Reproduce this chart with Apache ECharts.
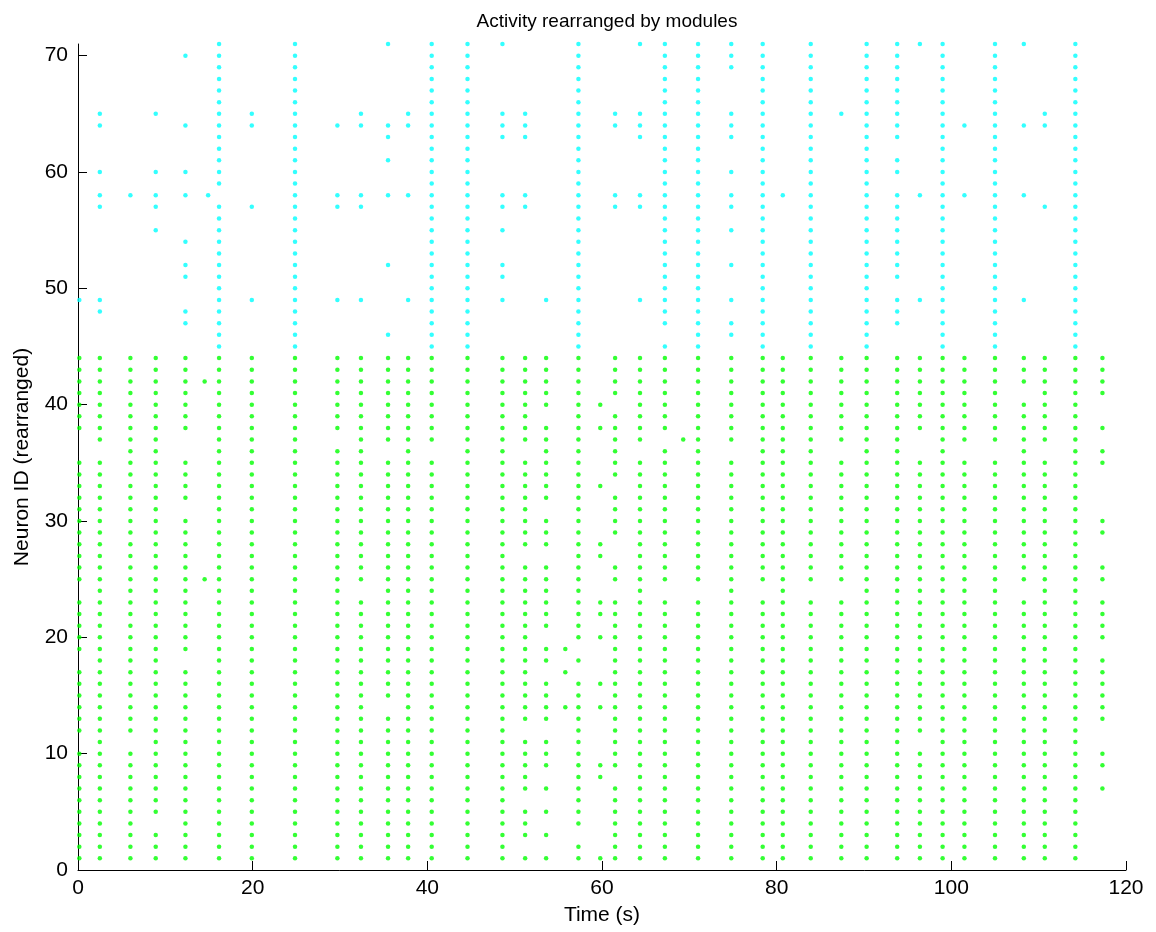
<!DOCTYPE html>
<html>
<head>
<meta charset="utf-8">
<script src="https://cdn.jsdelivr.net/npm/echarts@6/dist/echarts.min.js"></script>
<style>
html,body{margin:0;padding:0;background:#fff;}
#chart{width:1156px;height:932px;}
</style>
</head>
<body>
<div id="chart"></div>
<script>
// Column spike times (s)
const colTimes = [0.15, 2.5, 6.0, 8.9, 12.3, 16.15, 19.9, 24.85, 29.7, 32.4, 35.5, 37.8, 40.5, 44.6, 48.6, 51.2, 53.6, 57.3, 59.8, 61.5, 64.35, 67.2, 71.0, 74.8, 78.4, 80.7, 83.9, 87.4, 90.3, 93.8, 96.4, 99.0, 101.5, 105.0, 108.3, 110.7, 114.2, 117.3];
// Neurons of module 1 (green) firing in each column
const greenIds = [
  "1-10,12-17,19-23,25-35,38-44",
  "1-35,37-44",
  "1-10,12-44",
  "1-3,5-44",
  "1-17,19-30,32-35,38-44",
  "1-44",
  "1-44",
  "1-44",
  "1-36,38-44",
  "1-23,25-44",
  "1-13,15-35,37-44",
  "1-44",
  "1-35,37-44",
  "1-44",
  "1-44",
  "1,3-5,7-11,13-26,28-35,37-44",
  "1,3,5,7,9-11,13-16,18,19,21-26,28-30,32-38,40-44",
  "1,2,4-16,18,20-44",
  "1,8,9,14,16,20,22,23,27,28,33,38,40",
  "1-7,9-23,25,26,29-32,34-39,41-44",
  "1-35,37-44",
  "1-23,25-36,38-44",
  "1-23,25-44",
  "1-35,37-44",
  "1-23,25-44",
  "1-44",
  "1-23,25-44",
  "1-23,25-35,37-44",
  "1-44",
  "1-44",
  "1-10,12-35,38-44",
  "1-44",
  "1-35,37-44",
  "1-35,37-44",
  "1-23,25-40,42-44",
  "1-35,37-44",
  "1-44",
  "7,9,10,13-18,20-23,25,26,29,30,35,36,38,41-44"
];
// Neurons of module 2 (cyan) firing in each column
const cyanIds = [
  "49",
  "48,49,57,58,60,64,65",
  "58",
  "55,57,58,60,65",
  "47,48,51,52,54,58,60,64,70",
  "45-57,59-71",
  "49,57,64,65",
  "45-71",
  "49,57,58,64",
  "49,57,58,64,65",
  "46,52,58,61,63,64,71",
  "49,58,64,65",
  "45-71",
  "45-71",
  "49,51,52,55,57,58,63,64,65,71",
  "57,58,63,64,65",
  "49",
  "45-71",
  "",
  "57,58,64,65",
  "49,57,58,63,64,65,71",
  "45,47-71",
  "45-71",
  "46,47,49,52,55,57,58,60,63,64,65,69,70,71",
  "45-71",
  "58",
  "45-71",
  "65",
  "45-71",
  "47-49,51-58,60,61,63-71",
  "49,58,71",
  "45-71",
  "58,64",
  "45-71",
  "49,58,64,71",
  "57,64,65",
  "45-71",
  ""
];
// Isolated spikes outside the main columns
const extraGreenTimes = [14.5, 14.5, 55.8, 55.8, 55.8, 69.3];
const extraGreenIds = [25, 42, 19, 17, 14, 37];
const extraCyanTimes = [14.9];
const extraCyanIds = [58];

const xTicks = [0, 20, 40, 60, 80, 100, 120];
const yTicks = [0, 10, 20, 30, 40, 50, 60, 70];

function expand(spec) {
  const out = [];
  if (!spec) return out;
  spec.split(',').forEach(part => {
    const p = part.trim();
    if (!p) return;
    if (p.indexOf('-') > 0) {
      const [a, b] = p.split('-').map(Number);
      for (let i = a; i <= b; i++) out.push(i);
    } else out.push(Number(p));
  });
  return out;
}

const greenData = [];
const cyanData = [];
colTimes.forEach((t, i) => {
  expand(greenIds[i]).forEach(n => greenData.push([t, n]));
  expand(cyanIds[i]).forEach(n => cyanData.push([t, n]));
});
extraGreenTimes.forEach((t, i) => greenData.push([t, extraGreenIds[i]]));
extraCyanTimes.forEach((t, i) => cyanData.push([t, extraCyanIds[i]]));

const FONT = "'Liberation Sans', Arial, Helvetica, sans-serif";
const chart = echarts.init(document.getElementById('chart'), null, {renderer: 'canvas'});
chart.setOption({
  animation: false,
  backgroundColor: '#ffffff',
  title: {
    text: 'Activity rearranged by modules',
    left: 602,
    textAlign: 'center',
    top: 7,
    textStyle: {fontFamily: FONT, fontSize: 19, fontWeight: 'normal', color: '#000'}
  },
  grid: {left: 78, right: 30, top: 44, bottom: 62},
  xAxis: {
    type: 'value', min: 0, max: 120, interval: 20,
    name: 'Time (s)', nameLocation: 'middle', nameGap: 35,
    nameTextStyle: {fontFamily: FONT, fontSize: 21, color: '#000'},
    axisLine: {show: true, lineStyle: {color: '#000', width: 1}},
    axisTick: {show: true, inside: true, length: 9, lineStyle: {color: '#000'}, customValues: xTicks},
    axisLabel: {fontFamily: FONT, fontSize: 21, color: '#000', margin: 8, customValues: xTicks},
    splitLine: {show: false}
  },
  yAxis: {
    type: 'value', min: 0, max: 71,
    name: 'Neuron ID (rearranged)', nameLocation: 'middle', nameGap: 45, nameRotate: 90,
    nameTextStyle: {fontFamily: FONT, fontSize: 21, color: '#000'},
    axisLine: {show: true, lineStyle: {color: '#000', width: 1}},
    axisTick: {show: true, inside: true, length: 9, lineStyle: {color: '#000'}, customValues: yTicks},
    axisLabel: {fontFamily: FONT, fontSize: 21, color: '#000', margin: 10, customValues: yTicks},
    splitLine: {show: false}
  },
  series: [
    {
      type: 'scatter', name: 'Module 1', data: greenData,
      symbol: 'circle', symbolSize: 4.5,
      itemStyle: {color: '#00ff00'}, silent: true
    },
    {
      type: 'scatter', name: 'Module 2', data: cyanData,
      symbol: 'circle', symbolSize: 4.5,
      itemStyle: {color: '#00ffff'}, silent: true
    }
  ]
});
</script>
</body>
</html>
